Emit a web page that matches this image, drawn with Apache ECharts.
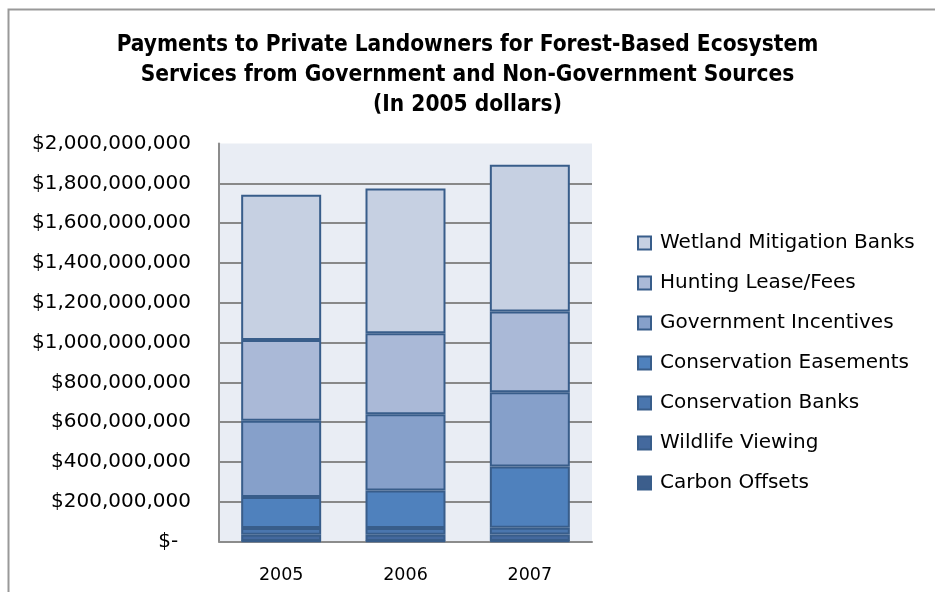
<!DOCTYPE html>
<html>
<head>
<meta charset="utf-8">
<script src="https://cdn.jsdelivr.net/npm/echarts@6/dist/echarts.min.js"></script>
<style>
  html, body { margin: 0; padding: 0; background: #fff; }
  #chart { width: 935px; height: 592px; }
</style>
</head>
<body>
<div id="chart"></div>
<script>
// values in millions of 2005 dollars
const years = ["2005", "2006", "2007"];
const carbonOffsets = [2, 2, 3];
const wildlifeViewing = [32, 32, 32];
const conservationBanks = [34, 34, 34];
const conservationEasements = [155, 188, 308];
const governmentIncentives = [384, 384, 373];
const huntingLease = [406, 407, 406];
const wetlandBanks = [729, 727, 737];
const MILLION = 1000000;

const seriesDefs = [
  { name: "Carbon Offsets", data: carbonOffsets, color: "#3c5e8c" },
  { name: "Wildlife Viewing", data: wildlifeViewing, color: "#44699e" },
  { name: "Conservation Banks", data: conservationBanks, color: "#4a76ae" },
  { name: "Conservation Easements", data: conservationEasements, color: "#4f81bd" },
  { name: "Government Incentives", data: governmentIncentives, color: "#86a0ca" },
  { name: "Hunting Lease/Fees", data: huntingLease, color: "#aab9d7" },
  { name: "Wetland Mitigation Banks", data: wetlandBanks, color: "#c6d0e2" }
];

const chart = echarts.init(document.getElementById("chart"));

const option = {
  animation: false,
  backgroundColor: "#fff",
  graphic: [
    {
      type: "rect",
      shape: { x: 8.5, y: 9.5, width: 1000, height: 700 },
      style: { fill: "none", stroke: "#999", lineWidth: 2 },
      silent: true
    }
  ],
  title: {
    text: "Payments to Private Landowners for Forest-Based Ecosystem\nServices from Government and Non-Government Sources\n(In 2005 dollars)",
    left: "center",
    top: 30,
    padding: 0,
    textStyle: {
      fontFamily: "DejaVu Sans Condensed",
      fontWeight: "bold",
      fontSize: 22.5,
      lineHeight: 30,
      color: "#000"
    }
  },
  legend: {
    orient: "vertical",
    left: 632,
    top: 228,
    itemWidth: 13,
    itemHeight: 13,
    itemGap: 20,
    icon: "rect",
    data: seriesDefs.map(s => s.name).reverse(),
    textStyle: {
      fontFamily: "DejaVu Sans",
      fontSize: 20,
      color: "#000",
      padding: [0, 0, 0, 4]
    }
  },
  grid: {
    left: 219,
    right: 343,
    top: 143.5,
    bottom: 50.5,
    show: true,
    backgroundColor: "#e9edf4",
    borderWidth: 0
  },
  xAxis: {
    type: "category",
    data: years,
    axisLine: { lineStyle: { color: "#8c8c8c", width: 2 } },
    axisTick: { show: false },
    axisLabel: {
      margin: 25,
      fontFamily: "DejaVu Sans",
      fontSize: 17.5,
      color: "#000"
    }
  },
  yAxis: {
    type: "value",
    min: 0,
    max: 2000 * MILLION,
    interval: 200 * MILLION,
    axisLine: { show: true, lineStyle: { color: "#8c8c8c", width: 2 } },
    axisTick: { show: false },
    splitLine: { showMaxLine: false, lineStyle: { color: "#888", width: 2 } },
    axisLabel: {
      margin: 28,
      fontFamily: "DejaVu Sans",
      fontSize: 20,
      color: "#000",
      formatter: v => (v === 0 ? "$-  " : "$" + v.toLocaleString("en-US"))
    }
  },
  series: seriesDefs.map(s => ({
    name: s.name,
    type: "bar",
    stack: "total",
    barWidth: 80,
    data: s.data.map(v => v * MILLION),
    itemStyle: { color: s.color, borderColor: "#385d8a", borderWidth: 2 },
    emphasis: { disabled: true }
  }))
};

chart.setOption(option);
</script>
</body>
</html>
